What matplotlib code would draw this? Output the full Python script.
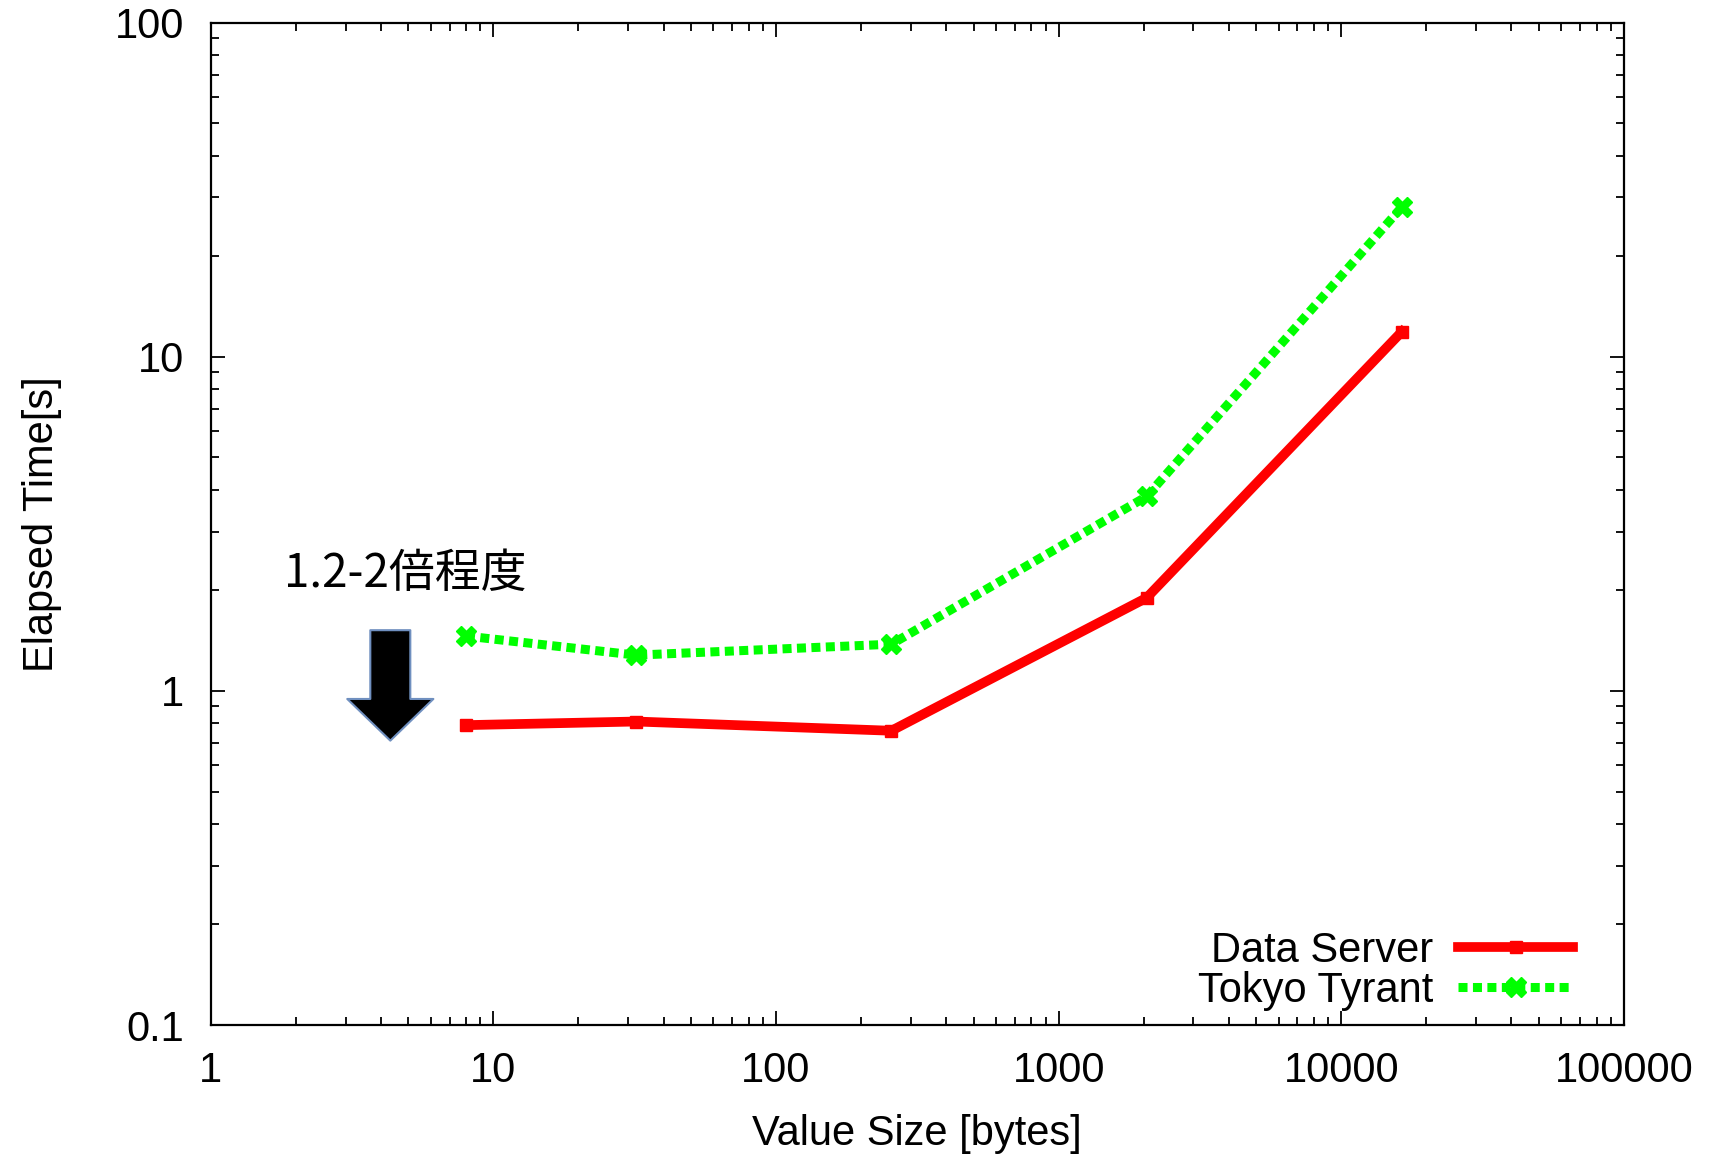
import matplotlib
matplotlib.use('Agg')
import matplotlib.pyplot as plt
from matplotlib.ticker import LogLocator, FixedLocator, FixedFormatter

plt.rcParams['font.family'] = ['Liberation Sans', 'DejaVu Sans']

# data
sizes = [8, 32, 256, 2048, 16384]
data_server = [0.79, 0.81, 0.76, 1.90, 11.9]
tokyo_tyrant = [1.46, 1.28, 1.38, 3.82, 28.1]
xticks = [1, 10, 100, 1000, 10000, 100000]
xticklabels = ['1', '10', '100', '1000', '10000', '100000']
yticks = [0.1, 1, 10, 100]
yticklabels = ['0.1', '1', '10', '100']

fig = plt.figure(figsize=(17.13, 11.56), dpi=100)
ax = fig.add_axes([0.123, 0.1133, 0.825, 0.867])

ax.plot(sizes, data_server, color='#ff0000', lw=7, marker='s', ms=9,
        label='Data Server', solid_joinstyle='miter')
ax.plot(sizes, tokyo_tyrant, color='#00ff00', lw=6.5, ls=(0, (1, 0.6)),
        dash_capstyle='butt', marker='X', ms=15, label='Tokyo Tyrant')

ax.set_xscale('log')
ax.set_yscale('log')
ax.set_xlim(1, 100000)
ax.set_ylim(0.1, 100)
ax.xaxis.set_major_locator(FixedLocator(xticks))
ax.xaxis.set_major_formatter(FixedFormatter(xticklabels))
ax.yaxis.set_major_locator(FixedLocator(yticks))
ax.yaxis.set_major_formatter(FixedFormatter(yticklabels))
ax.xaxis.set_minor_locator(LogLocator(base=10, subs=range(2, 10), numticks=20))
ax.yaxis.set_minor_locator(LogLocator(base=10, subs=range(2, 10), numticks=20))
ax.xaxis.set_minor_formatter(plt.NullFormatter())
ax.yaxis.set_minor_formatter(plt.NullFormatter())

ax.tick_params(which='both', direction='in', top=True, right=True, width=1.3)
ax.tick_params(which='major', length=10, labelsize=30)
ax.tick_params(which='minor', length=5.5)
ax.tick_params(axis='x', which='major', pad=19)
ax.tick_params(axis='y', which='major', pad=19)
for s in ax.spines.values():
    s.set_linewidth(1.6)

ax.set_xlabel('Value Size [bytes]', fontsize=30, labelpad=16)
ax.set_ylabel('Elapsed Time[s]', fontsize=30, labelpad=38)

leg = ax.legend(loc='lower right', frameon=False, fontsize=30, markerfirst=False,
                handlelength=2.75, handletextpad=0.6, labelspacing=0.0,
                borderaxespad=0, borderpad=0,
                bbox_to_anchor=(1 - 51 / 1413, 14 / 1002))

# annotation
ax.text(1.82, 2.24, '1.2-2倍程度', fontsize=33, va='center', ha='left',
        family=['Noto Sans CJK JP', 'DejaVu Sans'])
ax.annotate('', xy=(4.32, 0.71), xytext=(4.32, 1.52),
            arrowprops=dict(arrowstyle='simple,head_width=62,head_length=30,tail_width=28.8',
                            mutation_scale=1, fc='black', ec='#6f8fbf', lw=1.5,
                            shrinkA=0, shrinkB=0))

fig.savefig('out.png', dpi=100)
